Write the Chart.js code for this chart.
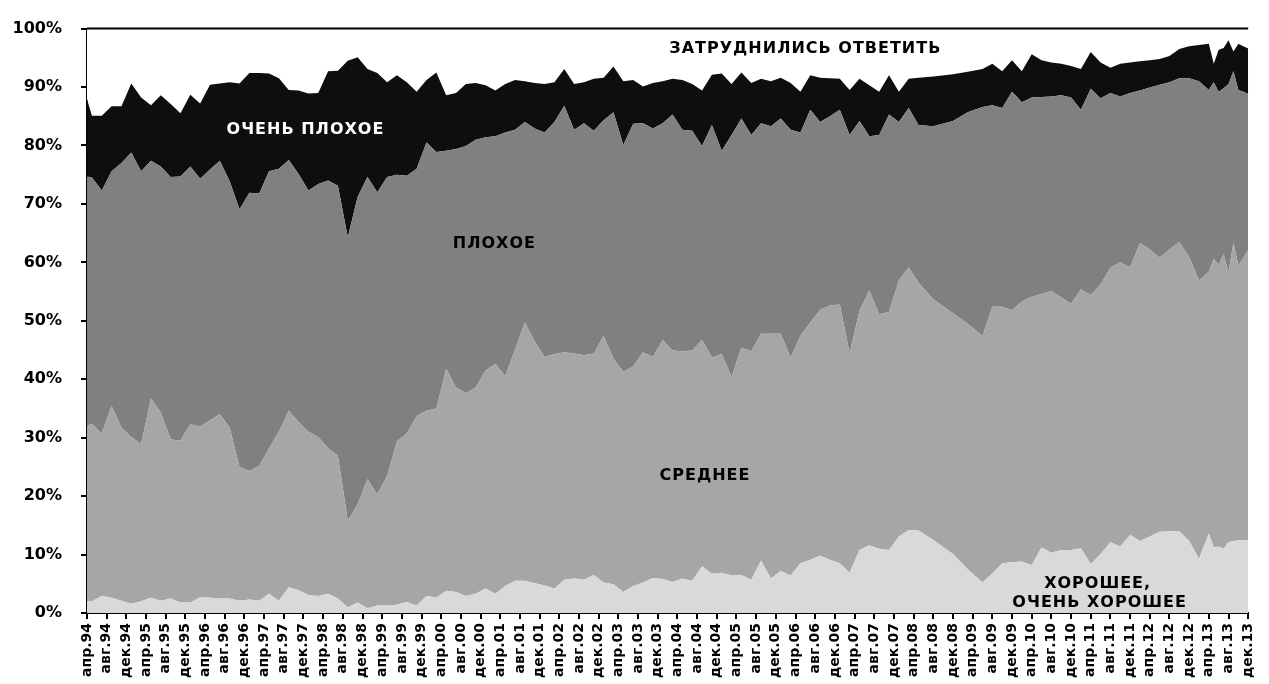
<!DOCTYPE html>
<html>
<head>
<meta charset="utf-8">
<script src="https://cdn.jsdelivr.net/npm/chart.js@4"></script>
<style>
    html, body { margin: 0; padding: 0; background: #fff; }
    #wrap { width: 1269px; height: 684px; }
</style>
</head>
<body>
<div id="wrap"><canvas id="chart"></canvas></div>
<script>
// Survey months, counted from апр.94 (0) to дек.13 (236)
const months = [0, 1, 3, 5, 7, 9, 11, 13, 15, 17, 19, 21, 23, 25, 27, 29, 31, 33, 35, 37,
    39, 41, 43, 45, 47, 49, 51, 53, 55, 57, 59, 61, 63, 65, 67, 69, 71, 73, 75, 77,
    79, 81, 83, 85, 87, 89, 91, 93, 95, 97, 99, 101, 103, 105, 107, 109, 111, 113, 115, 117,
    119, 121, 123, 125, 127, 129, 131, 133, 135, 137, 139, 141, 143, 145, 147, 149, 151, 153, 155, 157,
    159, 161, 163, 165, 167, 169, 172, 176, 179, 182, 184, 186, 188, 190, 192, 194, 196, 198, 200, 202,
    204, 206, 208, 210, 212, 214, 216, 218, 220, 222, 224, 226, 228, 229, 230, 231, 232, 233, 234, 235, 236];

// Shares, % (bottom to top of the stack)
const good = [2.1, 2.0, 2.9, 2.6, 2.1, 1.6, 2.0, 2.6, 2.1, 2.5,
    1.8, 1.8, 2.7, 2.6, 2.5, 2.5, 2.1, 2.3, 2.1, 3.3,
    2.1, 4.4, 3.9, 3.1, 2.9, 3.3, 2.5, 1.0, 1.8, 0.8,
    1.3, 1.3, 1.4, 1.9, 1.3, 2.9, 2.6, 3.8, 3.6, 2.9,
    3.3, 4.2, 3.3, 4.6, 5.5, 5.5, 5.1, 4.7, 4.2, 5.7,
    5.9, 5.7, 6.5, 5.2, 4.9, 3.6, 4.6, 5.2, 6.0, 5.8,
    5.3, 5.9, 5.5, 8.0, 6.7, 6.9, 6.4, 6.5, 5.7, 9.0,
    5.9, 7.2, 6.4, 8.5, 9.1, 9.8, 9.1, 8.5, 6.9, 10.8,
    11.6, 11.0, 10.8, 13.1, 14.2, 14.1, 12.5, 10.1, 7.5, 5.2,
    6.8, 8.5, 8.7, 8.8, 8.2, 11.2, 10.3, 10.8, 10.8, 11.1,
    8.4, 10.1, 12.1, 11.4, 13.4, 12.3, 13.1, 13.9, 14.0, 14.0,
    12.3, 9.3, 13.6, 11.2, 11.4, 11.0, 12.1, 12.3, 12.4, 12.5, 12.5];

const average = [29.9, 30.4, 27.8, 32.8, 29.6, 28.5, 26.9, 34.1, 32.2, 27.2,
    27.7, 30.5, 29.2, 30.4, 31.5, 29.2, 22.9, 22.0, 23.1, 24.9,
    28.9, 30.2, 28.8, 27.9, 27.2, 24.9, 24.4, 14.8, 16.8, 22.1,
    19.0, 22.2, 28.0, 28.8, 32.4, 31.7, 32.4, 38.0, 35.0, 34.7,
    35.3, 37.3, 39.3, 35.9, 39.6, 44.2, 41.3, 39.1, 40.1, 38.9,
    38.5, 38.4, 37.9, 42.2, 38.6, 37.7, 37.6, 39.4, 37.8, 40.9,
    39.6, 38.9, 39.4, 38.7, 37.0, 37.4, 34.0, 38.9, 39.1, 38.8,
    41.9, 40.6, 37.3, 38.9, 40.6, 42.1, 43.5, 44.3, 37.5, 40.9,
    43.6, 40.1, 40.7, 43.8, 44.9, 42.4, 41.2, 41.2, 42.0, 42.2,
    45.6, 43.9, 43.1, 44.5, 45.9, 43.4, 44.8, 43.2, 42.1, 44.3,
    46.0, 46.1, 47.0, 48.6, 45.7, 51.0, 49.1, 46.9, 48.2, 49.5,
    48.6, 47.6, 44.8, 49.4, 48.2, 50.4, 46.2, 51.1, 47.1, 48.3, 49.6];

const bad = [42.7, 42.1, 41.6, 40.2, 45.3, 48.7, 46.7, 40.7, 42.1, 44.9,
    45.2, 44.1, 42.4, 42.9, 43.4, 42.2, 44.1, 47.6, 46.6, 47.4,
    45.0, 42.9, 42.4, 41.3, 43.3, 45.8, 46.2, 48.5, 52.6, 51.7,
    51.7, 51.1, 45.6, 44.1, 42.3, 45.9, 43.9, 37.3, 40.8, 42.3,
    42.4, 39.9, 39.0, 41.7, 37.6, 34.3, 36.5, 38.4, 39.7, 42.2,
    38.3, 39.7, 38.1, 36.9, 42.2, 38.8, 41.5, 39.2, 39.1, 37.1,
    40.4, 37.9, 37.6, 33.2, 39.8, 34.8, 41.4, 39.2, 37.0, 36.0,
    35.5, 36.8, 39.0, 34.8, 36.4, 32.1, 32.4, 33.3, 37.4, 32.5,
    26.4, 30.7, 33.8, 27.1, 27.3, 27.0, 29.6, 32.9, 36.2, 39.2,
    34.5, 34.0, 37.4, 34.1, 34.1, 33.7, 33.3, 34.6, 35.3, 30.7,
    35.3, 31.9, 29.9, 28.4, 29.9, 26.1, 27.7, 29.6, 28.6, 28.0,
    30.6, 34.1, 31.1, 30.2, 29.6, 28.4, 32.2, 29.3, 30.0, 28.4, 26.7];

const veryBad = [13.2, 10.6, 12.8, 11.1, 9.7, 11.8, 12.6, 9.5, 12.2, 12.5,
    10.8, 12.3, 12.9, 14.5, 13.2, 16.9, 21.5, 20.5, 20.6, 16.7,
    15.5, 12.0, 14.3, 16.6, 15.6, 18.7, 19.7, 30.2, 23.9, 18.5,
    20.4, 16.2, 17.0, 16.0, 13.2, 10.7, 13.6, 9.5, 9.6, 10.6,
    9.7, 8.9, 7.8, 8.3, 8.5, 7.0, 7.8, 8.3, 6.8, 6.3,
    7.8, 7.0, 8.9, 7.3, 7.8, 10.9, 7.5, 6.3, 7.8, 7.2,
    6.1, 8.5, 8.0, 9.5, 8.6, 13.2, 8.7, 7.9, 8.9, 7.6,
    7.7, 7.0, 8.0, 7.0, 5.9, 7.6, 6.5, 5.3, 7.7, 7.2,
    8.7, 7.4, 6.7, 5.2, 5.0, 8.1, 8.5, 8.0, 6.9, 6.5,
    7.1, 6.3, 5.4, 5.3, 7.4, 6.3, 5.8, 5.4, 5.4, 7.0,
    6.3, 6.1, 4.3, 5.6, 5.2, 5.0, 4.7, 4.4, 4.5, 5.0,
    5.5, 6.2, 7.9, 3.2, 7.2, 6.9, 7.5, 3.4, 7.9, 7.8, 7.8];

const noAnswer = [12.1, 14.9, 14.9, 13.3, 13.3, 9.4, 11.8, 13.1, 11.4, 12.9,
    14.5, 11.3, 12.8, 9.6, 9.4, 9.2, 9.4, 7.6, 7.6, 7.7,
    8.5, 10.5, 10.6, 11.1, 11.0, 7.3, 7.2, 5.5, 4.9, 6.9,
    7.6, 9.2, 8.0, 9.2, 10.8, 8.8, 7.5, 11.4, 11.0, 9.5,
    9.3, 9.7, 10.6, 9.5, 8.8, 9.0, 9.3, 9.5, 9.2, 6.9,
    9.5, 9.2, 8.6, 8.4, 6.5, 9.0, 8.8, 9.9, 9.3, 9.0,
    8.6, 8.8, 9.5, 10.6, 7.9, 7.7, 9.5, 7.5, 9.3, 8.6,
    9.0, 8.4, 9.3, 10.8, 8.0, 8.4, 8.5, 8.6, 10.5, 8.6,
    9.7, 10.8, 8.0, 10.8, 8.6, 8.4, 8.2, 7.8, 7.4, 6.9,
    6.0, 7.3, 5.4, 7.3, 4.4, 5.4, 5.8, 6.0, 6.4, 6.9,
    4.0, 5.8, 6.7, 6.0, 5.8, 5.6, 5.4, 5.2, 4.7, 3.5,
    3.0, 2.8, 2.6, 6.0, 3.6, 3.3, 2.0, 3.9, 2.6, 3.0, 3.4];

// One label every 4 months
const xTickLabels = [
    'апр.94', 'авг.94', 'дек.94', 'апр.95', 'авг.95', 'дек.95', 'апр.96', 'авг.96', 'дек.96',
    'апр.97', 'авг.97', 'дек.97', 'апр.98', 'авг.98', 'дек.98', 'апр.99', 'авг.99', 'дек.99',
    'апр.00', 'авг.00', 'дек.00', 'апр.01', 'авг.01', 'дек.01', 'апр.02', 'авг.02', 'дек.02',
    'апр.03', 'авг.03', 'дек.03', 'апр.04', 'авг.04', 'дек.04', 'апр.05', 'авг.05', 'дек.05',
    'апр.06', 'авг.06', 'дек.06', 'апр.07', 'авг.07', 'дек.07', 'апр.08', 'авг.08', 'дек.08',
    'апр.09', 'авг.09', 'дек.09', 'апр.10', 'авг.10', 'дек.10', 'апр.11', 'авг.11', 'дек.11',
    'апр.12', 'авг.12', 'дек.12', 'апр.13', 'авг.13', 'дек.13'
];

// Text written over the areas (month, percent)
const areaLabels = [
    { text: 'ЗАТРУДНИЛИСЬ ОТВЕТИТЬ', month: 146, pct: 96.6, color: '#000' },
    { text: 'ОЧЕНЬ ПЛОХОЕ', month: 44.4, pct: 82.7, color: '#fff' },
    { text: 'ПЛОХОЕ', month: 82.8, pct: 63.2, color: '#000' },
    { text: 'СРЕДНЕЕ', month: 125.6, pct: 23.5, color: '#000' },
    { text: 'ХОРОШЕЕ,', month: 205.4, pct: 5.0, color: '#000' },
    { text: 'ОЧЕНЬ ХОРОШЕЕ', month: 205.8, pct: 1.7, color: '#000' }
];

const FONT = 'DejaVu Sans';
Chart.defaults.font.family = FONT;
Chart.defaults.color = '#000';

function points(values) {
    return months.map((m, i) => ({ x: m, y: values[i] }));
}

function area(label, values, color, fill) {
    return {
        label: label,
        data: points(values),
        backgroundColor: color,
        borderWidth: 0,
        pointRadius: 0,
        tension: 0,
        fill: fill
    };
}

// --- Plugins ---
const frameAndText = {
    id: 'frameAndText',
    afterDatasetsDraw(chart) {
        const { ctx, chartArea, scales } = chart;
        ctx.save();
        ctx.strokeStyle = '#000';
        ctx.lineWidth = 2;
        ctx.beginPath();
        ctx.moveTo(chartArea.left, chartArea.top);
        ctx.lineTo(chartArea.right, chartArea.top);
        ctx.stroke();

        ctx.font = `bold 16px "${FONT}"`;
        ctx.letterSpacing = '1px';
        ctx.textAlign = 'center';
        ctx.textBaseline = 'middle';
        areaLabels.forEach(l => {
            ctx.fillStyle = l.color;
            ctx.fillText(l.text, scales.x.getPixelForValue(l.month), scales.y.getPixelForValue(l.pct));
        });
        ctx.restore();
    }
};

// --- Chart ---
new Chart(document.getElementById('chart'), {
    type: 'line',
    data: {
        datasets: [
            area('хорошее, очень хорошее', good, '#d9d9d9', 'origin'),
            area('среднее', average, '#a6a6a6', '-1'),
            area('плохое', bad, '#808080', '-1'),
            area('очень плохое', veryBad, '#0e0e0e', '-1'),
            area('затруднились ответить', noAnswer, '#ffffff', '-1')
        ]
    },
    options: {
        responsive: true,
        maintainAspectRatio: false,
        animation: false,
        layout: { padding: { top: 18, right: 19, left: 0, bottom: 0 } },
        plugins: {
            legend: { display: false },
            tooltip: { enabled: false }
        },
        scales: {
            x: {
                type: 'linear',
                min: 0,
                max: 236,
                afterFit: s => { s.height = 71; },
                grid: { drawOnChartArea: false, drawTicks: true, tickLength: 6, color: '#000', lineWidth: 2 },
                border: { display: true, color: '#000', width: 2 },
                ticks: {
                    stepSize: 4,
                    autoSkip: false,
                    maxRotation: 90,
                    minRotation: 90,
                    padding: 4,
                    font: { size: 14, weight: 'bold' },
                    callback: v => xTickLabels[Math.round(v / 4)]
                }
            },
            y: {
                stacked: true,
                min: 0,
                max: 100,
                afterFit: s => { s.width = 87; },
                grid: { drawOnChartArea: false, drawTicks: true, tickLength: 6, color: '#000', lineWidth: 2 },
                border: { display: true, color: '#000', width: 2 },
                ticks: {
                    stepSize: 10,
                    padding: 19,
                    font: { size: 16, weight: 'bold' },
                    callback: v => v + '%'
                }
            }
        }
    },
    plugins: [frameAndText]
});
</script>
</body>
</html>
